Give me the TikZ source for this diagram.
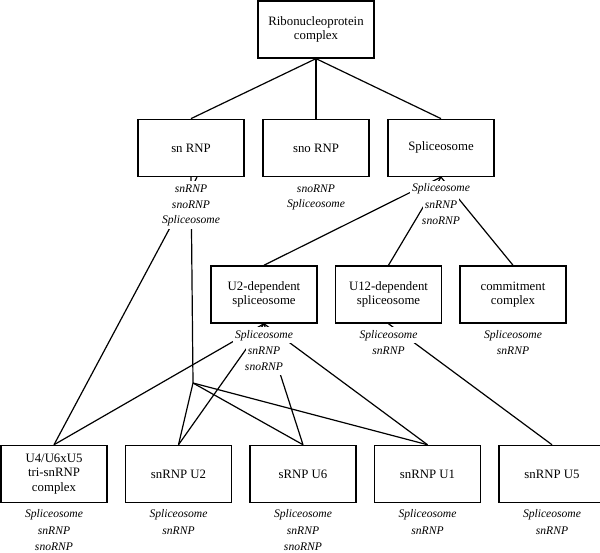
\documentclass[tikz,border=0pt]{standalone}
\usepackage{fontspec}
\setmainfont{Liberation Serif}
\usetikzlibrary{positioning,calc}

\tikzset{
  box/.style={draw,line width=1.5pt,align=center,minimum width=106pt,minimum height=57pt,inner sep=2pt,font=\fontsize{12.8}{14.5}\selectfont},
  tagtxt/.style={fill=white,inner xsep=2pt,inner ysep=0pt,minimum height=16pt,font=\itshape\fontsize{11.6}{13}\selectfont},
  link/.style={line width=1.2pt}
}
% italic names under a box, one white node per line
\newcommand\tags[2]{\foreach \t [count=\k] in {#2}{\node[tagtxt] (#1-\k) at ([yshift={-11.5-(\k-1)*16}]#1.south) {\t};}}

\begin{document}
\begin{tikzpicture}[x=1pt,y=1pt,node distance=17pt]
\useasboundingbox (0,0) rectangle (600,553);

% top and second row
\node[box,minimum width=116pt] (ribo) at (316,523.6) {Ribonucleoprotein\\complex};
\node[box,below=60pt of ribo] (snornp) {sno RNP};
\node[box,left=17.5pt of snornp] (snrnp) {sn RNP};
\node[box,right=17.5pt of snornp] (splic) {Spliceosome};

% third row
\node[box] (u2dep) at (264,258.5) {U2-dependent\\spliceosome};
\node[box,right=of u2dep] (u12dep) {U12-dependent\\spliceosome};
\node[box,right=of u12dep] (commit) {commitment\\complex};

% bottom row
\node[box] (tri) at (54,79) {U4/U6xU5\\tri-snRNP\\complex};
\node[box,right=of tri] (u2) {snRNP U2};
\node[box,right=of u2] (u6) {sRNP U6};
\node[box,right=of u6] (u1) {snRNP U1};
\node[box,right=of u1] (u5) {snRNP U5};

\coordinate (jn) at (193,170);

\draw[link] (ribo.south) -- (snrnp.north);
\draw[link] (ribo.south) -- (snornp.north);
\draw[link] (ribo.south) -- (splic.north);
\draw[link] (splic.south) -- (u2dep.north);
\draw[link] (splic.south) -- (u12dep.north);
\draw[link] (splic.south) -- (commit.north);
\draw[link] ([xshift=6pt]snrnp.south) -- (tri.north);
\draw[link] (snrnp.south) -- (jn);
\draw[link] (jn) -- (u2.north);
\draw[link] (jn) -- (u6.north);
\draw[link] (jn) -- (u1.north);
\draw[link] (u2dep.south) -- (tri.north);
\draw[link] (u2dep.south) -- (u2.north);
\draw[link] (u2dep.south) -- (u6.north);
\draw[link] (u2dep.south) -- (u1.north);
\draw[link] (u12dep.south) -- (u5.north);

\tags{snrnp}{snRNP,snoRNP,Spliceosome}
\tags{snornp}{snoRNP,Spliceosome}
\tags{splic}{Spliceosome,snRNP,snoRNP}
\tags{u2dep}{Spliceosome,snRNP,snoRNP}
\tags{u12dep}{Spliceosome,snRNP}
\tags{commit}{Spliceosome,snRNP}
\tags{tri}{Spliceosome,snRNP,snoRNP}
\tags{u2}{Spliceosome,snRNP}
\tags{u6}{Spliceosome,snRNP,snoRNP}
\tags{u1}{Spliceosome,snRNP}
\tags{u5}{Spliceosome,snRNP}
\end{tikzpicture}
\end{document}
